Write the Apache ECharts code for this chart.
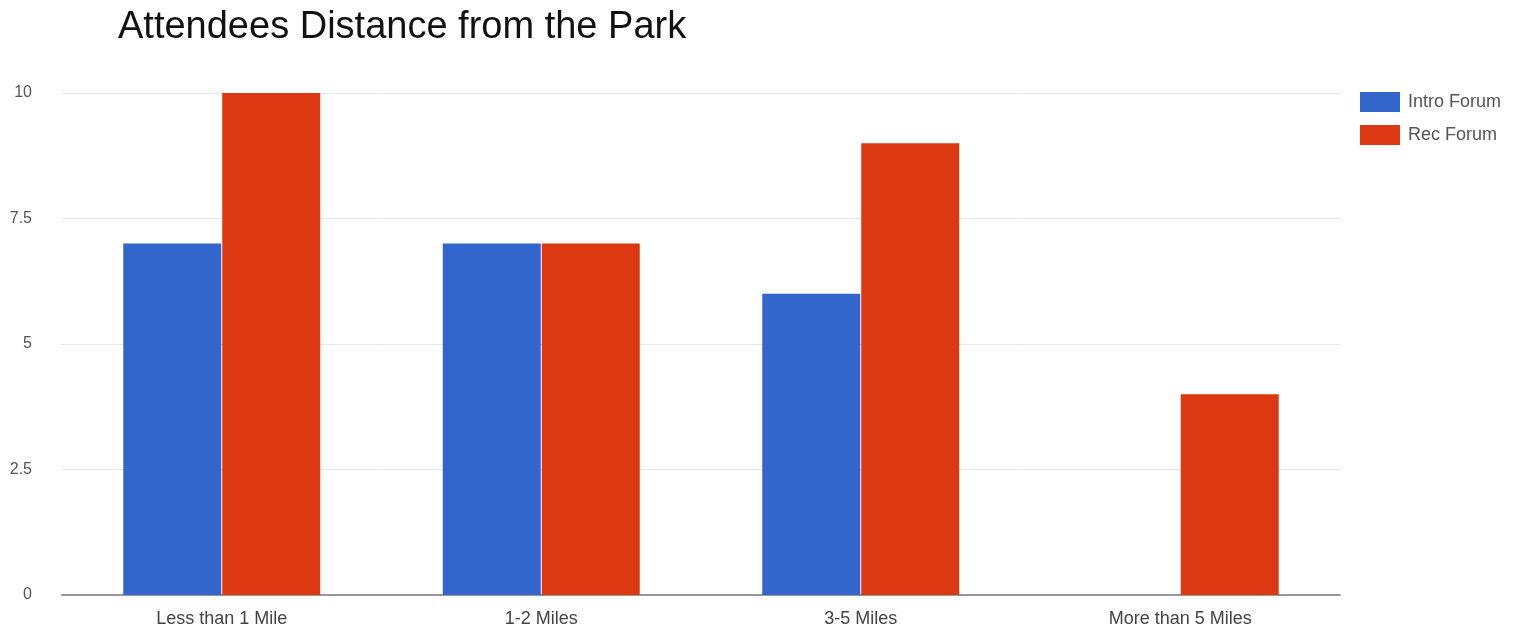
<!DOCTYPE html>
<html>
<head>
<meta charset="utf-8">
<script src="https://cdn.jsdelivr.net/npm/echarts@6/dist/echarts.min.js"></script>
<style>
  html, body { margin: 0; padding: 0; background: #fff; }
  #chart { width: 1516px; height: 629px; }
</style>
</head>
<body>
<div id="chart"></div>
<script>
const categories = ['Less than 1 Mile', '1-2 Miles', '3-5 Miles', 'More than 5 Miles'];
const introForum = [7, 7, 6, 0];
const recForum = [10, 7, 9, 4];
const yTicks = [0, 2.5, 5, 7.5, 10];

const chart = echarts.init(document.getElementById('chart'));
chart.setOption({
  backgroundColor: '#fff',
  animation: false,
  title: {
    text: 'Attendees Distance from the Park',
    left: 113,
    top: 4,
    textStyle: { fontFamily: 'Liberation Sans, Arial', fontSize: 38, fontWeight: 'normal', color: '#111' }
  },
  legend: {
    orient: 'vertical',
    left: 1355,
    top: 87,
    itemWidth: 40,
    itemHeight: 20,
    itemGap: 13,
    icon: 'rect',
    textStyle: { fontFamily: 'Liberation Sans, Arial', fontSize: 18, color: '#555', padding: [0, 0, 0, 3] },
    data: ['Intro Forum', 'Rec Forum']
  },
  grid: { left: 62, right: 176, top: 93, bottom: 34 },
  xAxis: {
    type: 'category',
    data: categories,
    axisTick: { show: false },
    axisLine: { lineStyle: { color: '#999', width: 2 } },
    axisLabel: { fontFamily: 'Liberation Sans, Arial', fontSize: 18, color: '#444', margin: 15 }
  },
  yAxis: {
    type: 'value',
    min: yTicks[0],
    max: yTicks[yTicks.length - 1],
    interval: 2.5,
    axisLine: { show: false },
    axisTick: { show: false },
    splitLine: { lineStyle: { color: '#e6e6e6', width: 1 } },
    axisLabel: { fontFamily: 'Liberation Sans, Arial', fontSize: 16, color: '#555', margin: 30 }
  },
  series: [
    {
      name: 'Intro Forum',
      type: 'bar',
      data: introForum,
      barWidth: 98,
      barGap: '1%',
      itemStyle: { color: '#3366cc' }
    },
    {
      name: 'Rec Forum',
      type: 'bar',
      data: recForum,
      barWidth: 98,
      itemStyle: { color: '#dc3912' }
    }
  ]
});
</script>
</body>
</html>
